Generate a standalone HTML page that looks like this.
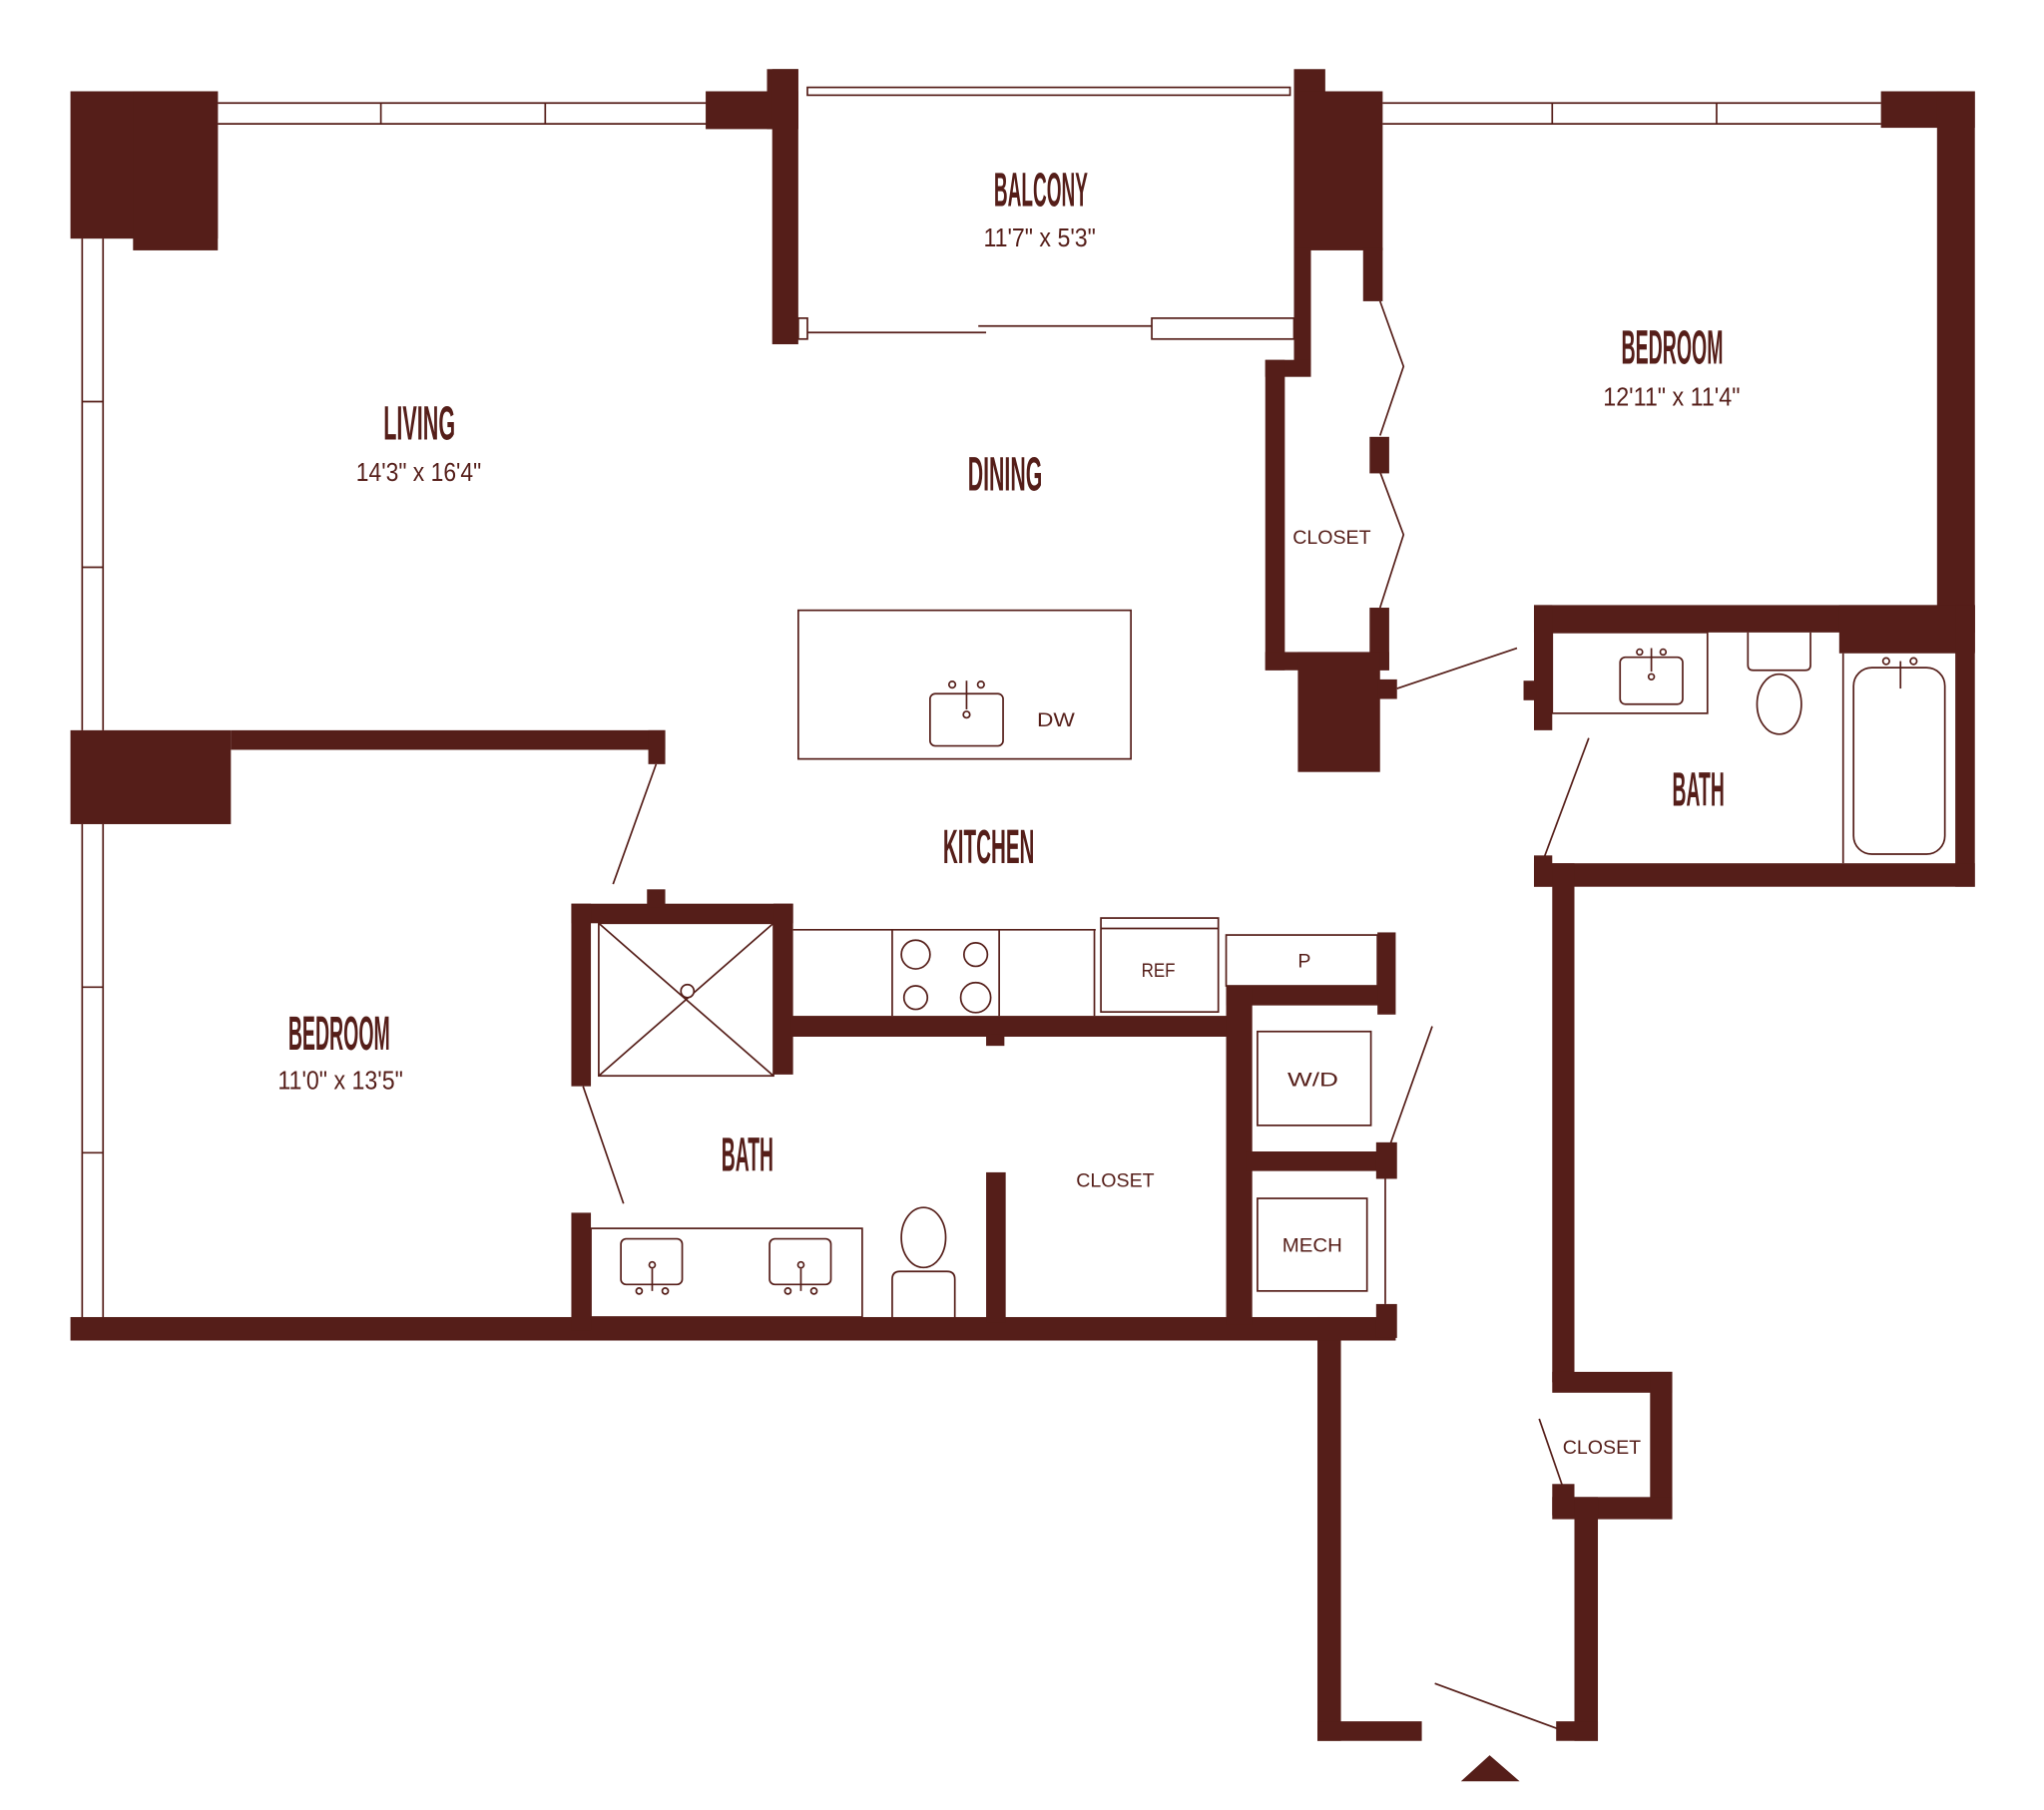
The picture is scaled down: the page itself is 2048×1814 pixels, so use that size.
<!DOCTYPE html>
<html><head><meta charset="utf-8"><style>
html,body{margin:0;padding:0;background:#fff;}
svg{display:block;}
.t{font-family:"Liberation Sans Narrow","Liberation Sans",sans-serif;font-weight:bold;fill:#551e19;}
.d{font-family:"Liberation Sans Narrow","Liberation Sans",sans-serif;fill:#551e19;}
.s{font-family:"Liberation Sans",sans-serif;fill:#551e19;}
</style></head><body>
<svg width="2048" height="1814" viewBox="0 0 1567 1388" preserveAspectRatio="none" xmlns="http://www.w3.org/2000/svg">
<g fill="#551e19">
<rect x="54" y="70" width="113" height="113"/><rect x="102" y="70" width="65" height="122"/>
<rect x="541" y="70" width="71" height="29"/><rect x="588" y="53" width="24" height="46"/><rect x="592" y="53" width="20" height="211"/>
<rect x="992" y="53" width="24" height="20"/><rect x="992" y="70" width="68" height="122"/>
<rect x="992" y="190" width="13" height="90"/><rect x="1045" y="190" width="15" height="41"/>
<rect x="970" y="276" width="35" height="13"/><rect x="970" y="276" width="15" height="238"/>
<rect x="1050" y="335" width="15" height="28"/><rect x="1050" y="466" width="15" height="48"/>
<rect x="970" y="500" width="95" height="14"/><rect x="995" y="500" width="63" height="92"/>
<rect x="1056" y="521" width="15" height="15"/>
<rect x="1442" y="70" width="72" height="28"/><rect x="1485" y="70" width="29" height="430"/>
<rect x="1176" y="464" width="338" height="21"/><rect x="1410" y="464" width="104" height="37"/>
<rect x="1176" y="464" width="14" height="96"/><rect x="1168" y="522" width="10" height="15"/>
<rect x="1499" y="464" width="15" height="216"/>
<rect x="1176" y="662" width="338" height="18"/><rect x="1176" y="656" width="14" height="24"/>
<rect x="1190" y="662" width="17" height="398"/>
<rect x="1190" y="1052" width="92" height="16"/><rect x="1265" y="1052" width="17" height="113"/>
<rect x="1190" y="1148" width="92" height="17"/><rect x="1190" y="1138" width="17" height="24"/>
<rect x="1207" y="1148" width="18" height="187"/><rect x="1193" y="1320" width="32" height="15"/>
<rect x="1010" y="1010" width="18" height="325"/><rect x="1010" y="1320" width="80" height="15"/>
<rect x="54" y="1010" width="1016" height="18"/>
<rect x="54" y="560" width="123" height="72"/><rect x="177" y="560" width="333" height="15"/><rect x="497" y="560" width="13" height="26"/>
<rect x="438" y="693" width="170" height="15"/><rect x="438" y="693" width="15" height="140"/><rect x="593" y="693" width="15" height="131"/>
<rect x="496" y="682" width="14" height="14"/>
<rect x="606" y="779" width="350" height="16"/><rect x="756" y="793" width="14" height="9"/>
<rect x="940" y="756" width="125" height="15"/><rect x="1056" y="715" width="14" height="63"/>
<rect x="940" y="756" width="20" height="260"/>
<rect x="955" y="883" width="110" height="15"/><rect x="1055" y="876" width="16" height="28"/>
<rect x="1055" y="1000" width="16" height="26"/>
<rect x="438" y="930" width="15" height="90"/><rect x="756" y="899" width="15" height="115"/>
<polygon points="1120,1366 1142,1346 1165,1366"/>
</g>
<g fill="none" stroke="#551e19" stroke-width="1.3">
<line x1="167" y1="79" x2="544" y2="79"/><line x1="167" y1="95" x2="544" y2="95"/>
<line x1="292" y1="79" x2="292" y2="95"/><line x1="418" y1="79" x2="418" y2="95"/>
<line x1="1060" y1="79" x2="1442" y2="79"/><line x1="1060" y1="95" x2="1442" y2="95"/>
<line x1="1190" y1="79" x2="1190" y2="95"/><line x1="1316" y1="79" x2="1316" y2="95"/>
<line x1="63" y1="183" x2="63" y2="560"/><line x1="79" y1="183" x2="79" y2="560"/>
<line x1="63" y1="308" x2="79" y2="308"/><line x1="63" y1="435" x2="79" y2="435"/>
<line x1="63" y1="632" x2="63" y2="1010"/><line x1="79" y1="632" x2="79" y2="1010"/>
<line x1="63" y1="757" x2="79" y2="757"/><line x1="63" y1="884" x2="79" y2="884"/>
<rect x="619" y="67" width="370" height="6"/>
<rect x="612" y="244" width="7" height="16"/>
<line x1="619" y1="255" x2="756" y2="255"/><line x1="750" y1="250" x2="883" y2="250"/>
<rect x="883" y="244" width="109" height="16"/>
<polyline points="1058,231 1076,281 1058,334"/><polyline points="1058,362 1076,410 1058,466"/>
<line x1="1071" y1="528" x2="1163" y2="497"/>
<line x1="1218" y1="566" x2="1184" y2="657"/>
<rect x="1190" y="485" width="119" height="62"/>
<rect x="1242" y="504" width="48" height="36" rx="4"/>
<circle cx="1257" cy="500" r="2.2"/><circle cx="1275" cy="500" r="2.2"/><line x1="1266" y1="497" x2="1266" y2="515"/><circle cx="1266" cy="519" r="2.2"/>
<path d="M1340,485 V510 q0,4 4,4 H1384 q4,0 4,-4 V485"/>
<ellipse cx="1364" cy="540" rx="17" ry="23"/>
<line x1="1413" y1="501" x2="1413" y2="662"/>
<rect x="1421" y="512" width="70" height="143" rx="14"/>
<circle cx="1446" cy="507" r="2.5"/><circle cx="1467" cy="507" r="2.5"/><line x1="1457" y1="507" x2="1457" y2="528"/>
<rect x="612" y="468" width="255" height="114"/>
<rect x="713" y="532" width="56" height="40" rx="4"/>
<circle cx="730" cy="525" r="2.5"/><circle cx="752" cy="525" r="2.5"/><line x1="741" y1="522" x2="741" y2="544"/><circle cx="741" cy="548" r="2.5"/>
<line x1="503" y1="586" x2="470" y2="678"/>
<rect x="459" y="708" width="134" height="117"/>
<line x1="459" y1="708" x2="593" y2="825"/><line x1="593" y1="708" x2="459" y2="825"/>
<circle cx="527" cy="760" r="5" fill="#fff"/>
<line x1="608" y1="713" x2="840" y2="713"/>
<line x1="684" y1="713" x2="684" y2="779"/><line x1="766" y1="713" x2="766" y2="779"/><line x1="839" y1="713" x2="839" y2="779"/>
<circle cx="702" cy="732" r="11"/><circle cx="748" cy="732" r="9"/><circle cx="702" cy="765" r="9"/><circle cx="748" cy="765" r="11.5"/>
<rect x="844" y="704" width="90" height="72"/><line x1="844" y1="712" x2="934" y2="712"/>
<rect x="940" y="717" width="116" height="39"/>
<rect x="964" y="791" width="87" height="72"/>
<rect x="964" y="919" width="84" height="71"/>
<line x1="1062" y1="904" x2="1062" y2="1000"/>
<line x1="1098" y1="787" x2="1066" y2="877"/>
<line x1="447" y1="833" x2="478" y2="923"/>
<rect x="453" y="942" width="208" height="68"/>
<rect x="476" y="950" width="47" height="35" rx="4"/>
<rect x="590" y="950" width="47" height="35" rx="4"/>
<circle cx="500" cy="970" r="2.3"/><line x1="500" y1="973" x2="500" y2="990"/><circle cx="490" cy="990" r="2.3"/><circle cx="510" cy="990" r="2.3"/>
<circle cx="614" cy="970" r="2.3"/><line x1="614" y1="973" x2="614" y2="990"/><circle cx="604" cy="990" r="2.3"/><circle cx="624" cy="990" r="2.3"/>
<ellipse cx="708" cy="949" rx="17" ry="23"/>
<path d="M684,1010 V981 q0,-6 6,-6 H726 q6,0 6,6 V1010"/>
<line x1="1180" y1="1088" x2="1198" y2="1140"/>
<line x1="1100" y1="1291" x2="1195" y2="1326"/>
</g>
<g>
<text class="t" x="762" y="158" font-size="37" textLength="72" lengthAdjust="spacingAndGlyphs">BALCONY</text>
<text class="d" x="754" y="189" font-size="20" textLength="86" lengthAdjust="spacingAndGlyphs">11'7" x 5'3"</text>
<text class="t" x="1243" y="279" font-size="37" textLength="78" lengthAdjust="spacingAndGlyphs">BEDROOM</text>
<text class="d" x="1229" y="311" font-size="20" textLength="105" lengthAdjust="spacingAndGlyphs">12'11" x 11'4"</text>
<text class="t" x="294" y="337" font-size="37" textLength="55" lengthAdjust="spacingAndGlyphs">LIVING</text>
<text class="d" x="273" y="369" font-size="20" textLength="96" lengthAdjust="spacingAndGlyphs">14'3" x 16'4"</text>
<text class="t" x="742" y="376" font-size="37" textLength="57" lengthAdjust="spacingAndGlyphs">DINING</text>
<text class="t" x="723" y="662" font-size="37" textLength="70" lengthAdjust="spacingAndGlyphs">KITCHEN</text>
<text class="t" x="221" y="805" font-size="37" textLength="78" lengthAdjust="spacingAndGlyphs">BEDROOM</text>
<text class="d" x="213" y="835" font-size="20" textLength="96" lengthAdjust="spacingAndGlyphs">11'0" x 13'5"</text>
<text class="t" x="553" y="898" font-size="37" textLength="40" lengthAdjust="spacingAndGlyphs">BATH</text>
<text class="t" x="1282" y="618" font-size="37" textLength="40" lengthAdjust="spacingAndGlyphs">BATH</text>
<text class="s" x="991" y="417" font-size="15" textLength="60" lengthAdjust="spacingAndGlyphs">CLOSET</text>
<text class="s" x="825" y="910" font-size="15" textLength="60" lengthAdjust="spacingAndGlyphs">CLOSET</text>
<text class="s" x="1198" y="1115" font-size="15" textLength="60" lengthAdjust="spacingAndGlyphs">CLOSET</text>
<text class="s" x="795" y="557" font-size="15" textLength="29" lengthAdjust="spacingAndGlyphs">DW</text>
<text class="s" x="875" y="749" font-size="15" textLength="26" lengthAdjust="spacingAndGlyphs">REF</text>
<text class="s" x="995" y="742" font-size="15">P</text>
<text class="s" x="987" y="833" font-size="15" textLength="39" lengthAdjust="spacingAndGlyphs">W/D</text>
<text class="s" x="983" y="960" font-size="15" textLength="46" lengthAdjust="spacingAndGlyphs">MECH</text>
</g>
</svg>
</body></html>
